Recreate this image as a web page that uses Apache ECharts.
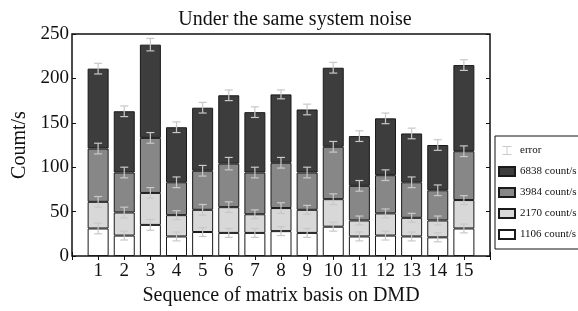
<!DOCTYPE html>
<html>
<head>
<meta charset="utf-8">
<script src="https://cdn.jsdelivr.net/npm/echarts@6/dist/echarts.min.js"></script>
<style>
  html, body { margin: 0; padding: 0; background: #fff; }
  #chart { width: 578px; height: 311px; }
</style>
</head>
<body>
<div id="chart"></div>
<script>
// positions of the 15 bases on the x axis (axis runs 0..16)
const positions = [1, 2, 3, 4, 5, 6, 7, 8, 9, 10, 11, 12, 13, 14, 15]
const axisSlots = [0, ...positions, 16]

// per-layer counts (stacked bottom to top)
const white1106 = [31, 23, 35, 22, 27, 26, 26, 28, 26, 33, 22, 23, 22, 21, 31]
const light2170 = [30, 26, 36, 24, 25, 29, 21, 26, 26, 31, 18, 25, 21, 19, 32]
const mid3984 = [60, 45, 62, 37, 44, 49, 47, 51, 42, 59, 39, 43, 40, 34, 55]
const dark6838 = [90, 69, 105, 62, 71, 77, 68, 77, 71, 89, 56, 64, 55, 51, 97]

// error half-widths for each layer top
const errWhite = [6, 5, 6, 5, 5, 5, 5, 5, 5, 5, 5, 5, 5, 5, 5]
const errLight = [6, 6, 6, 5, 6, 6, 5, 6, 5, 6, 5, 5, 5, 5, 5]
const errMid = [6, 6, 6, 6, 6, 7, 6, 6, 6, 6, 6, 6, 6, 6, 6]
const errDark = [6, 6, 7, 6, 6, 6, 6, 5, 6, 6, 6, 6, 6, 6, 6]

const layers = [
  { name: '1106 count/s', values: white1106, err: errWhite, color: '#ffffff' },
  { name: '2170 count/s', values: light2170, err: errLight, color: '#d8d8d8' },
  { name: '3984 count/s', values: mid3984, err: errMid, color: '#878787' },
  { name: '6838 count/s', values: dark6838, err: errDark, color: '#3d3d3d' }
]

const font = 'Liberation Serif'

const series = []
const errData = []
const running = positions.map(() => 0)
layers.forEach((layer) => {
  series.push({
    name: layer.name,
    type: 'bar',
    stack: 'total',
    barWidth: 21,
    itemStyle: { color: layer.color, borderColor: '#1a1a1a', borderWidth: 1 },
    data: positions.map((x, i) => [x, layer.values[i]]),
    z: 2
  })
  positions.forEach((x, i) => {
    running[i] += layer.values[i]
    errData.push([x, running[i], layer.err[i]])
  })
})

series.push({
  name: 'error',
  type: 'custom',
  z: 5,
  data: errData,
  encode: { x: 0, y: 1 },
  renderItem: (params, api) => {
    const x = api.value(0)
    const y = api.value(1)
    const e = api.value(2)
    const top = api.coord([x, y + e])
    const bot = api.coord([x, y - e])
    const style = { stroke: '#c8c8c8', lineWidth: 1.2 }
    const hw = 4
    return {
      type: 'group',
      children: [
        { type: 'line', shape: { x1: top[0], y1: top[1], x2: bot[0], y2: bot[1] }, style },
        { type: 'line', shape: { x1: top[0] - hw, y1: top[1], x2: top[0] + hw, y2: top[1] }, style },
        { type: 'line', shape: { x1: bot[0] - hw, y1: bot[1], x2: bot[0] + hw, y2: bot[1] }, style }
      ]
    }
  }
})

const chart = echarts.init(document.getElementById('chart'), null, { renderer: 'canvas' })

const tick = { show: true, inside: true, length: 4, interval: 0, lineStyle: { color: '#111' } }

chart.setOption({
  animation: false,
  backgroundColor: '#fff',
  title: {
    text: 'Under the same system noise',
    left: 290,
    textAlign: 'center',
    top: 5,
    textStyle: { fontFamily: font, fontSize: 20, fontWeight: 'normal', color: '#111' }
  },
  grid: {
    left: 72, right: 88, top: 34, bottom: 52,
    show: true, borderColor: '#111', borderWidth: 1.5, backgroundColor: 'transparent'
  },
  legend: {
    orient: 'vertical',
    left: 495,
    top: 136,
    icon: 'rect',
    itemWidth: 16,
    itemHeight: 9,
    itemGap: 10,
    padding: [9, 4, 9, 3],
    borderColor: '#111',
    borderWidth: 1,
    textStyle: { fontFamily: font, fontSize: 11, color: '#111' },
    data: [
      { name: 'error', icon: 'path://M0,0 L10,0 L10,1 L5.5,1 L5.5,9 L10,9 L10,10 L0,10 L0,9 L4.5,9 L4.5,1 L0,1 Z', itemStyle: { color: '#c8c8c8' } },
      '6838 count/s', '3984 count/s', '2170 count/s', '1106 count/s'
    ]
  },
  xAxis: [
    {
      type: 'category', data: axisSlots.map(String), boundaryGap: false,
      name: 'Sequence of matrix basis on DMD',
      nameLocation: 'middle', nameGap: 30,
      nameTextStyle: { fontFamily: font, fontSize: 20, color: '#111' },
      axisLine: { show: false },
      axisTick: tick,
      splitLine: { show: false },
      axisLabel: {
        interval: 0,
        fontFamily: font, fontSize: 19, color: '#111', margin: 6,
        formatter: (v) => (v === '0' || v === '16' ? '' : v)
      }
    },
    {
      type: 'category', data: axisSlots.map(String), boundaryGap: false, position: 'top',
      axisLine: { show: false },
      axisTick: tick,
      axisLabel: { show: false },
      splitLine: { show: false }
    }
  ],
  yAxis: [
    {
      type: 'value', min: 0, max: 250, interval: 50,
      name: 'Coumt/s',
      nameLocation: 'middle', nameGap: 42,
      nameTextStyle: { fontFamily: font, fontSize: 20, color: '#111' },
      axisLine: { show: false },
      axisTick: tick,
      splitLine: { show: false },
      axisLabel: { fontFamily: font, fontSize: 19, color: '#111', margin: 3 }
    },
    {
      type: 'value', min: 0, max: 250, interval: 50, position: 'right',
      axisLine: { show: false },
      axisTick: tick,
      axisLabel: { show: false },
      splitLine: { show: false }
    }
  ],
  series
})
</script>
</body>
</html>
